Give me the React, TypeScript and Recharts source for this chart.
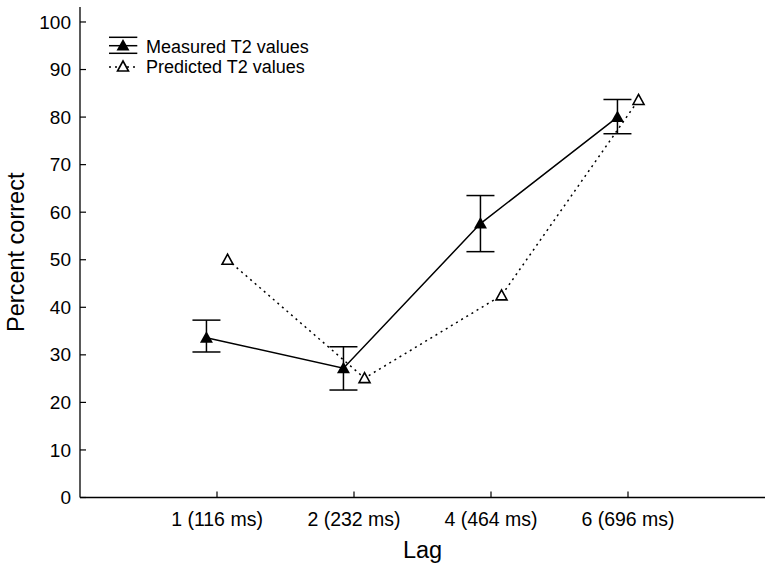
import React from "react"
import { ComposedChart, Scatter, XAxis, YAxis, ErrorBar } from "recharts"

const FONT = "'Liberation Sans', Arial, Helvetica, sans-serif"

// Lag conditions (category positions 1..4 on a numeric axis)
const lagLabels = ["1 (116 ms)", "2 (232 ms)", "4 (464 ms)", "6 (696 ms)"]
const lagPositions = [1, 2, 3, 4]

// Measured T2 accuracy with asymmetric error bars
const measured = [33.6, 27.2, 57.6, 80.0]
const measuredErrLow = [3.0, 4.6, 5.9, 3.5]
const measuredErrHigh = [3.7, 4.5, 5.9, 3.7]

// Predicted T2 accuracy
const predicted = [50.0, 25.1, 42.5, 83.6]

const yTicks = [0, 10, 20, 30, 40, 50, 60, 70, 80, 90, 100]

// small horizontal dodge so the two series don't overlap
const DODGE = 0.077

const measuredData = measured.map((v, i) => ({
  x: lagPositions[i] - DODGE,
  y: v,
  err: [measuredErrLow[i], measuredErrHigh[i]],
}))

const predictedData = predicted.map((v, i) => ({
  x: lagPositions[i] + DODGE,
  y: v,
}))

function FilledTriangle(props: any) {
  const { cx, cy } = props
  if (cx == null || cy == null) return null
  return <path d={`M${cx},${cy - 6.5} L${cx + 6.5},${cy + 5} L${cx - 6.5},${cy + 5} Z`} fill="#000" />
}

function HollowTriangle(props: any) {
  const { cx, cy } = props
  if (cx == null || cy == null) return null
  return (
    <path
      d={`M${cx},${cy - 5.5} L${cx + 5.5},${cy + 4.5} L${cx - 5.5},${cy + 4.5} Z`}
      fill="#fff"
      stroke="#000"
      strokeWidth={1.6}
    />
  )
}

function XTick(props: any) {
  const { x, y, payload } = props
  const label = lagLabels[lagPositions.indexOf(payload.value)]
  return (
    <g>
      <line x1={x} y1={y} x2={x} y2={y - 6} stroke="#000" strokeWidth={1.2} />
      <text x={x} y={y + 28} textAnchor="middle" fontSize={19.5} fontFamily={FONT} fill="#000">
        {label}
      </text>
    </g>
  )
}

function YTick(props: any) {
  const { x, y, payload } = props
  return (
    <g>
      <line x1={x} y1={y} x2={x + 6} y2={y} stroke="#000" strokeWidth={1.2} />
      <text x={x - 9} y={y} dy="0.35em" textAnchor="end" fontSize={19} fontFamily={FONT} fill="#000">
        {payload.value}
      </text>
    </g>
  )
}

function LegendBox() {
  return (
    <svg width={240} height={90} style={{ position: "absolute", left: 0, top: 0, overflow: "visible" }}>
      {/* measured: error bar glyph + filled triangle */}
      <line x1={109} y1={37.3} x2={137.3} y2={37.3} stroke="#000" strokeWidth={1.5} />
      <line x1={109} y1={45.7} x2={137.3} y2={45.7} stroke="#000" strokeWidth={1.5} />
      <line x1={109} y1={53.3} x2={137.3} y2={53.3} stroke="#000" strokeWidth={1.5} />
      <FilledTriangle cx={123} cy={45.5} />
      <text x={146} y={52.5} fontSize={18} fontFamily={FONT} fill="#000">
        Measured T2 values
      </text>
      {/* predicted: dotted line + hollow triangle */}
      <line x1={109} y1={67} x2={137.3} y2={67} stroke="#000" strokeWidth={1.5} strokeDasharray="2 4" />
      <HollowTriangle cx={123} cy={66.5} />
      <text x={146} y={73} fontSize={18} fontFamily={FONT} fill="#000">
        Predicted T2 values
      </text>
    </svg>
  )
}

export default function App() {
  return (
    <div style={{ position: "absolute", left: 0, top: 0, width: 774, height: 571, background: "#fff" }}>
      <ComposedChart
        width={774}
        height={571}
        margin={{ top: 7, right: 9, bottom: 0, left: 0 }}
        style={{ fontFamily: FONT }}
      >
        <XAxis
          xAxisId="main"
          type="number"
          dataKey="x"
          domain={[0, 5]}
          ticks={lagPositions}
          allowDataOverflow
          height={73.5}
          tickSize={0}
          tickMargin={0}
          tickLine={false}
          tick={<XTick />}
          axisLine={{ stroke: "#000", strokeWidth: 1.3 }}
          label={{ value: "Lag", position: "insideBottom", offset: 13, fontSize: 23.5, fill: "#000" }}
        />
        <XAxis
          xAxisId="top"
          orientation="top"
          type="number"
          domain={[0, 5]}
          height={0}
          tick={false}
          tickLine={false}
          axisLine={{ stroke: "#444", strokeWidth: 1.5 }}
        />
        <YAxis
          yAxisId="main"
          type="number"
          dataKey="y"
          domain={[0, 103.15]}
          ticks={yTicks}
          allowDataOverflow
          width={80}
          tickSize={0}
          tickMargin={0}
          tickLine={false}
          tick={<YTick />}
          axisLine={{ stroke: "#000", strokeWidth: 1.3 }}
          label={{ value: "Percent correct", angle: -90, position: "center", dx: -24, fontSize: 23.5, fill: "#000" }}
        />
        <YAxis
          yAxisId="right"
          orientation="right"
          type="number"
          domain={[0, 103.15]}
          width={0}
          tick={false}
          tickLine={false}
          axisLine={{ stroke: "#444", strokeWidth: 1.5 }}
        />
        <Scatter
          name="Predicted T2 values"
          data={predictedData}
          xAxisId="main"
          yAxisId="main"
          line={{ stroke: "#000", strokeWidth: 1.5, strokeDasharray: "2 4" }}
          lineJointType="linear"
          shape={<HollowTriangle />}
          isAnimationActive={false}
        />
        <Scatter
          name="Measured T2 values"
          data={measuredData}
          xAxisId="main"
          yAxisId="main"
          line={{ stroke: "#000", strokeWidth: 1.5 }}
          lineJointType="linear"
          shape={<FilledTriangle />}
          isAnimationActive={false}
        >
          <ErrorBar dataKey="err" direction="y" width={14} stroke="#000" strokeWidth={1.5} />
        </Scatter>
      </ComposedChart>
      <LegendBox />
    </div>
  )
}
